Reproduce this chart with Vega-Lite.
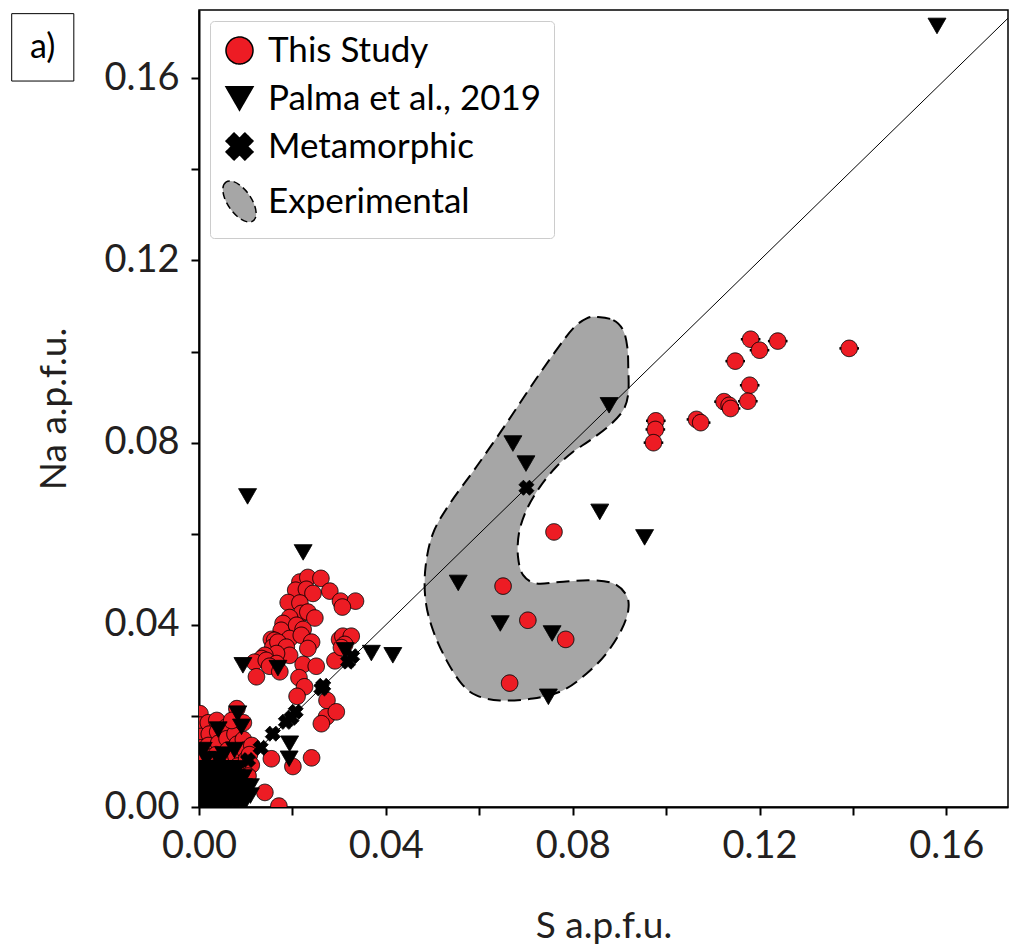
{
  "$schema": "https://vega.github.io/schema/vega-lite/v6.json",
  "autosize": {"type": "none"},
  "width": 809,
  "height": 797,
  "padding": {"left": 199, "top": 10, "right": 2, "bottom": 144},
  "config": {
    "font": "Lato",
    "view": {"stroke": "black", "strokeWidth": 1.5},
    "axis": {
      "grid": false, "domainColor": "black", "domainWidth": 2, "tickColor": "black", "tickWidth": 2, "tickSize": 8, "labelFlush": false,
      "labelFont": "Lato", "labelFontSize": 38, "labelColor": "#231f20", "labelPadding": 12,
      "titleFont": "Lato", "titleFontSize": 37, "titleFontWeight": "normal", "titleColor": "#231f20"
    },
    "legend": {
      "title": null, "orient": "top-left", "offset": 11, "padding": 12, "strokeColor": "#cccccc", "fillColor": "white", "cornerRadius": 4,
      "labelFont": "Lato", "labelFontSize": 35, "labelColor": "black", "labelOffset": 11, "symbolSize": 729, "rowPadding": 12, "labelLimit": 400,
      "symbolStrokeColor": "black", "symbolStrokeWidth": 1.5
    }
  },
  "datasets": {
    "pts": [
      {"S":0.0002,"Na":0.0205,"series":"This Study"},{"S":0.0003,"Na":0.018,"series":"This Study"},{"S":0.0005,"Na":0.0155,"series":"This Study"},{"S":0.0004,"Na":0.013,"series":"This Study"},{"S":0.0006,"Na":0.0105,"series":"This Study"},{"S":0.0005,"Na":0.008,"series":"This Study"},{"S":0.0006,"Na":0.005,"series":"This Study"},{"S":0.0004,"Na":0.002,"series":"This Study"},
      {"S":0.002,"Na":0.0185,"series":"This Study"},{"S":0.0022,"Na":0.016,"series":"This Study"},{"S":0.002,"Na":0.0135,"series":"This Study"},{"S":0.0025,"Na":0.011,"series":"This Study"},{"S":0.002,"Na":0.0085,"series":"This Study"},{"S":0.0023,"Na":0.006,"series":"This Study"},{"S":0.002,"Na":0.003,"series":"This Study"},
      {"S":0.0038,"Na":0.019,"series":"This Study"},{"S":0.004,"Na":0.0165,"series":"This Study"},{"S":0.0042,"Na":0.014,"series":"This Study"},{"S":0.0037,"Na":0.0115,"series":"This Study"},{"S":0.0041,"Na":0.009,"series":"This Study"},{"S":0.0039,"Na":0.0065,"series":"This Study"},{"S":0.004,"Na":0.004,"series":"This Study"},
      {"S":0.0058,"Na":0.0175,"series":"This Study"},{"S":0.006,"Na":0.015,"series":"This Study"},{"S":0.0062,"Na":0.0125,"series":"This Study"},{"S":0.0057,"Na":0.01,"series":"This Study"},{"S":0.006,"Na":0.0075,"series":"This Study"},{"S":0.0061,"Na":0.005,"series":"This Study"},{"S":0.0059,"Na":0.0025,"series":"This Study"},
      {"S":0.0077,"Na":0.016,"series":"This Study"},{"S":0.0082,"Na":0.0138,"series":"This Study"},{"S":0.0079,"Na":0.0112,"series":"This Study"},{"S":0.0083,"Na":0.009,"series":"This Study"},{"S":0.0078,"Na":0.0065,"series":"This Study"},{"S":0.0081,"Na":0.004,"series":"This Study"},
      {"S":0.0095,"Na":0.0148,"series":"This Study"},{"S":0.0098,"Na":0.0125,"series":"This Study"},{"S":0.0102,"Na":0.0105,"series":"This Study"},{"S":0.0096,"Na":0.008,"series":"This Study"},{"S":0.0099,"Na":0.0055,"series":"This Study"},
      {"S":0.0113,"Na":0.0135,"series":"This Study"},{"S":0.0108,"Na":0.0115,"series":"This Study"},{"S":0.0112,"Na":0.0092,"series":"This Study"},{"S":0.0105,"Na":0.0068,"series":"This Study"},
      {"S":0.0081,"Na":0.0216,"series":"This Study"},{"S":0.0095,"Na":0.0185,"series":"This Study"},{"S":0.007,"Na":0.019,"series":"This Study"},
      {"S":0.0216,"Na":0.0494,"series":"This Study"},{"S":0.0233,"Na":0.0504,"series":"This Study"},{"S":0.0261,"Na":0.0502,"series":"This Study"},{"S":0.028,"Na":0.0474,"series":"This Study"},{"S":0.0207,"Na":0.0476,"series":"This Study"},{"S":0.023,"Na":0.0478,"series":"This Study"},{"S":0.0244,"Na":0.0469,"series":"This Study"},{"S":0.0303,"Na":0.0452,"series":"This Study"},{"S":0.0335,"Na":0.0452,"series":"This Study"},{"S":0.0307,"Na":0.0439,"series":"This Study"},
      {"S":0.0191,"Na":0.0449,"series":"This Study"},{"S":0.0216,"Na":0.0448,"series":"This Study"},{"S":0.0219,"Na":0.0425,"series":"This Study"},{"S":0.0233,"Na":0.0428,"series":"This Study"},{"S":0.0248,"Na":0.0415,"series":"This Study"},{"S":0.0194,"Na":0.0416,"series":"This Study"},{"S":0.018,"Na":0.0403,"series":"This Study"},{"S":0.0176,"Na":0.0388,"series":"This Study"},{"S":0.0209,"Na":0.0399,"series":"This Study"},{"S":0.0223,"Na":0.039,"series":"This Study"},
      {"S":0.0194,"Na":0.037,"series":"This Study"},{"S":0.0219,"Na":0.0377,"series":"This Study"},{"S":0.0155,"Na":0.0368,"series":"This Study"},{"S":0.0162,"Na":0.0366,"series":"This Study"},{"S":0.0158,"Na":0.0351,"series":"This Study"},{"S":0.0169,"Na":0.0362,"series":"This Study"},{"S":0.0241,"Na":0.0362,"series":"This Study"},{"S":0.0233,"Na":0.0348,"series":"This Study"},{"S":0.0187,"Na":0.0351,"series":"This Study"},{"S":0.0194,"Na":0.0333,"series":"This Study"},
      {"S":0.0166,"Na":0.0337,"series":"This Study"},{"S":0.0141,"Na":0.0333,"series":"This Study"},{"S":0.0134,"Na":0.0326,"series":"This Study"},{"S":0.0119,"Na":0.0318,"series":"This Study"},{"S":0.0144,"Na":0.0322,"series":"This Study"},{"S":0.0166,"Na":0.0315,"series":"This Study"},{"S":0.0151,"Na":0.0309,"series":"This Study"},{"S":0.0173,"Na":0.0297,"series":"This Study"},{"S":0.0123,"Na":0.0286,"series":"This Study"},{"S":0.0223,"Na":0.0313,"series":"This Study"},
      {"S":0.0251,"Na":0.0309,"series":"This Study"},{"S":0.0291,"Na":0.0321,"series":"This Study"},{"S":0.0301,"Na":0.0368,"series":"This Study"},{"S":0.0308,"Na":0.0375,"series":"This Study"},{"S":0.0326,"Na":0.0375,"series":"This Study"},{"S":0.0312,"Na":0.0357,"series":"This Study"},{"S":0.0305,"Na":0.035,"series":"This Study"},{"S":0.0214,"Na":0.0284,"series":"This Study"},{"S":0.0226,"Na":0.0264,"series":"This Study"},{"S":0.021,"Na":0.0243,"series":"This Study"},
      {"S":0.0274,"Na":0.0234,"series":"This Study"},{"S":0.0273,"Na":0.0198,"series":"This Study"},{"S":0.0262,"Na":0.0183,"series":"This Study"},{"S":0.0294,"Na":0.0209,"series":"This Study"},{"S":0.0201,"Na":0.0089,"series":"This Study"},{"S":0.0241,"Na":0.0108,"series":"This Study"},{"S":0.0155,"Na":0.0106,"series":"This Study"},{"S":0.0141,"Na":0.0032,"series":"This Study"},{"S":0.0171,"Na":0.0002,"series":"This Study"},{"S":0.0073,"Na":0.0004,"series":"This Study"},
      {"S":0.0005,"Na":0.0005,"series":"Palma et al., 2019"},{"S":0.002,"Na":0.0005,"series":"Palma et al., 2019"},{"S":0.0035,"Na":0.0005,"series":"Palma et al., 2019"},{"S":0.005,"Na":0.0005,"series":"Palma et al., 2019"},{"S":0.0065,"Na":0.0005,"series":"Palma et al., 2019"},{"S":0.008,"Na":0.0005,"series":"Palma et al., 2019"},{"S":0.0095,"Na":0.0005,"series":"Palma et al., 2019"},
      {"S":0.0005,"Na":0.0025,"series":"Palma et al., 2019"},{"S":0.002,"Na":0.0025,"series":"Palma et al., 2019"},{"S":0.0035,"Na":0.0025,"series":"Palma et al., 2019"},{"S":0.005,"Na":0.0025,"series":"Palma et al., 2019"},{"S":0.0065,"Na":0.0025,"series":"Palma et al., 2019"},{"S":0.008,"Na":0.0025,"series":"Palma et al., 2019"},{"S":0.0095,"Na":0.0025,"series":"Palma et al., 2019"},{"S":0.011,"Na":0.0025,"series":"Palma et al., 2019"},
      {"S":0.0005,"Na":0.0045,"series":"Palma et al., 2019"},{"S":0.002,"Na":0.0045,"series":"Palma et al., 2019"},{"S":0.0035,"Na":0.0045,"series":"Palma et al., 2019"},{"S":0.005,"Na":0.0045,"series":"Palma et al., 2019"},{"S":0.0065,"Na":0.0045,"series":"Palma et al., 2019"},{"S":0.008,"Na":0.0045,"series":"Palma et al., 2019"},{"S":0.0095,"Na":0.0045,"series":"Palma et al., 2019"},{"S":0.011,"Na":0.0045,"series":"Palma et al., 2019"},
      {"S":0.0005,"Na":0.0065,"series":"Palma et al., 2019"},{"S":0.002,"Na":0.0065,"series":"Palma et al., 2019"},{"S":0.0035,"Na":0.0065,"series":"Palma et al., 2019"},{"S":0.005,"Na":0.0065,"series":"Palma et al., 2019"},{"S":0.0065,"Na":0.0065,"series":"Palma et al., 2019"},{"S":0.008,"Na":0.0065,"series":"Palma et al., 2019"},{"S":0.0095,"Na":0.0065,"series":"Palma et al., 2019"},
      {"S":0.0005,"Na":0.0085,"series":"Palma et al., 2019"},{"S":0.002,"Na":0.0085,"series":"Palma et al., 2019"},{"S":0.0035,"Na":0.0085,"series":"Palma et al., 2019"},{"S":0.005,"Na":0.0085,"series":"Palma et al., 2019"},{"S":0.0065,"Na":0.0085,"series":"Palma et al., 2019"},{"S":0.008,"Na":0.0085,"series":"Palma et al., 2019"},
      {"S":0.0083,"Na":0.0205,"series":"Palma et al., 2019"},{"S":0.0091,"Na":0.0176,"series":"Palma et al., 2019"},{"S":0.0041,"Na":0.017,"series":"Palma et al., 2019"},{"S":0.0076,"Na":0.0125,"series":"Palma et al., 2019"},{"S":0.0041,"Na":0.0105,"series":"Palma et al., 2019"},{"S":0.0016,"Na":0.0105,"series":"Palma et al., 2019"},{"S":0.0053,"Na":0.0115,"series":"Palma et al., 2019"},{"S":0.0009,"Na":0.0125,"series":"Palma et al., 2019"},
      {"S":0.0194,"Na":0.0139,"series":"Palma et al., 2019"},{"S":0.0193,"Na":0.0106,"series":"Palma et al., 2019"},{"S":0.0094,"Na":0.0311,"series":"Palma et al., 2019"},{"S":0.0169,"Na":0.0305,"series":"Palma et al., 2019"},{"S":0.0223,"Na":0.0559,"series":"Palma et al., 2019"},{"S":0.0104,"Na":0.0682,"series":"Palma et al., 2019"},{"S":0.0313,"Na":0.0344,"series":"Palma et al., 2019"},{"S":0.0369,"Na":0.0338,"series":"Palma et al., 2019"},{"S":0.0415,"Na":0.0333,"series":"Palma et al., 2019"},
      {"S":0.0672,"Na":0.0798,"series":"Palma et al., 2019"},{"S":0.07,"Na":0.0754,"series":"Palma et al., 2019"},{"S":0.0878,"Na":0.0882,"series":"Palma et al., 2019"},{"S":0.0858,"Na":0.0648,"series":"Palma et al., 2019"},{"S":0.0954,"Na":0.0592,"series":"Palma et al., 2019"},{"S":0.0555,"Na":0.0492,"series":"Palma et al., 2019"},{"S":0.0645,"Na":0.0403,"series":"Palma et al., 2019"},{"S":0.0756,"Na":0.0381,"series":"Palma et al., 2019"},{"S":0.0748,"Na":0.0242,"series":"Palma et al., 2019"},{"S":0.158,"Na":0.1715,"series":"Palma et al., 2019"},
      {"S":0.001,"Na":0.001,"series":"Metamorphic"},{"S":0.002,"Na":0.0021,"series":"Metamorphic"},{"S":0.004,"Na":0.0042,"series":"Metamorphic"},{"S":0.006,"Na":0.0058,"series":"Metamorphic"},{"S":0.008,"Na":0.0082,"series":"Metamorphic"},{"S":0.0105,"Na":0.0103,"series":"Metamorphic"},{"S":0.0132,"Na":0.013,"series":"Metamorphic"},{"S":0.0158,"Na":0.0161,"series":"Metamorphic"},{"S":0.0186,"Na":0.0187,"series":"Metamorphic"},{"S":0.0198,"Na":0.0196,"series":"Metamorphic"},
      {"S":0.0207,"Na":0.0209,"series":"Metamorphic"},{"S":0.0262,"Na":0.026,"series":"Metamorphic"},{"S":0.0266,"Na":0.0266,"series":"Metamorphic"},{"S":0.0319,"Na":0.0319,"series":"Metamorphic"},{"S":0.0328,"Na":0.0331,"series":"Metamorphic"},{"S":0.0701,"Na":0.0701,"series":"Metamorphic"},
      {"S":0.076,"Na":0.0604,"series":"This Study"},{"S":0.0651,"Na":0.0485,"series":"This Study"},{"S":0.0704,"Na":0.041,"series":"This Study"},{"S":0.0785,"Na":0.0368,"series":"This Study"},{"S":0.0665,"Na":0.0272,"series":"This Study"},
      {"S":0.1181,"Na":0.1027,"series":"This Study"},{"S":0.1239,"Na":0.1023,"series":"This Study"},{"S":0.12,"Na":0.1003,"series":"This Study"},{"S":0.1392,"Na":0.1007,"series":"This Study"},{"S":0.1148,"Na":0.0979,"series":"This Study"},{"S":0.1179,"Na":0.0926,"series":"This Study"},{"S":0.1175,"Na":0.0891,"series":"This Study"},{"S":0.1124,"Na":0.089,"series":"This Study"},{"S":0.1135,"Na":0.0882,"series":"This Study"},{"S":0.1138,"Na":0.0875,"series":"This Study"},
      {"S":0.1065,"Na":0.0851,"series":"This Study"},{"S":0.1074,"Na":0.0844,"series":"This Study"},{"S":0.0978,"Na":0.0848,"series":"This Study"},{"S":0.0977,"Na":0.0829,"series":"This Study"},{"S":0.0973,"Na":0.08,"series":"This Study"}
    ],
    "err": [
      {"lo":0.116,"hi":0.1202,"Na":0.1027},{"lo":0.1218,"hi":0.126,"Na":0.1023},{"lo":0.1179,"hi":0.1221,"Na":0.1003},{"lo":0.1371,"hi":0.1413,"Na":0.1007},{"lo":0.1127,"hi":0.1169,"Na":0.0979},
      {"lo":0.1158,"hi":0.12,"Na":0.0926},{"lo":0.1154,"hi":0.1196,"Na":0.0891},{"lo":0.1103,"hi":0.1145,"Na":0.089},{"lo":0.1114,"hi":0.1156,"Na":0.0882},{"lo":0.1117,"hi":0.1159,"Na":0.0875},
      {"lo":0.1044,"hi":0.1086,"Na":0.0851},{"lo":0.1053,"hi":0.1095,"Na":0.0844},{"lo":0.0957,"hi":0.0999,"Na":0.0848},{"lo":0.0956,"hi":0.0998,"Na":0.0829},{"lo":0.0952,"hi":0.0994,"Na":0.08}
    ],
    "poly": [
      {"i":1,"S":0.0854,"Na":0.1076},{"i":2,"S":0.0887,"Na":0.1069},{"i":3,"S":0.0908,"Na":0.1047},{"i":4,"S":0.0917,"Na":0.101},{"i":5,"S":0.0919,"Na":0.0967},{"i":6,"S":0.0919,"Na":0.0908},{"i":7,"S":0.0908,"Na":0.0871},{"i":8,"S":0.0879,"Na":0.0838},{"i":9,"S":0.0837,"Na":0.0805},{"i":10,"S":0.0801,"Na":0.078},
      {"i":11,"S":0.0765,"Na":0.0747},{"i":12,"S":0.073,"Na":0.0703},{"i":13,"S":0.0701,"Na":0.0652},{"i":14,"S":0.0685,"Na":0.0601},{"i":15,"S":0.0683,"Na":0.0549},{"i":16,"S":0.0694,"Na":0.0509},{"i":17,"S":0.0722,"Na":0.0491},{"i":18,"S":0.0772,"Na":0.0494},{"i":19,"S":0.0837,"Na":0.0498},{"i":20,"S":0.0887,"Na":0.0491},
      {"i":21,"S":0.0915,"Na":0.0465},{"i":22,"S":0.0919,"Na":0.0432},{"i":23,"S":0.0904,"Na":0.0388},{"i":24,"S":0.0872,"Na":0.0337},{"i":25,"S":0.083,"Na":0.0293},{"i":26,"S":0.0779,"Na":0.0256},{"i":27,"S":0.0715,"Na":0.0238},{"i":28,"S":0.0644,"Na":0.0234},{"i":29,"S":0.0594,"Na":0.0245},{"i":30,"S":0.0562,"Na":0.0271},
      {"i":31,"S":0.053,"Na":0.0322},{"i":32,"S":0.0501,"Na":0.0388},{"i":33,"S":0.0485,"Na":0.0454},{"i":34,"S":0.0485,"Na":0.0527},{"i":35,"S":0.0501,"Na":0.0601},{"i":36,"S":0.0537,"Na":0.0666},{"i":37,"S":0.0594,"Na":0.0747},{"i":38,"S":0.0658,"Na":0.0842},{"i":39,"S":0.0715,"Na":0.093},{"i":40,"S":0.0765,"Na":0.1003},
      {"i":41,"S":0.0801,"Na":0.1051},{"i":42,"S":0.083,"Na":0.1073}
    ],
    "oneone": [{"S":0,"Na":0},{"S":0.1732,"Na":0.1732}],
    "panel": [{"label":"a)","x0":-0.0401,"x1":-0.0268,"y0":0.1594,"y1":0.1742,"xc":-0.03347,"yc":0.1667}]
  },
  "layer": [
    {
      "data": {"name": "poly"},
      "mark": {"type": "line", "interpolate": "cardinal-closed", "fill": "#a6a6a6", "stroke": "black", "strokeWidth": 2, "strokeDash": [13, 7]},
      "encoding": {
        "x": {"field": "S", "type": "quantitative", "scale": {"domain": [0, 0.1732], "nice": false, "zero": false},
          "axis": {"title": "S a.p.f.u.", "values": [0,0.02,0.04,0.06,0.08,0.1,0.12,0.14,0.16], "format": ".2f", "labelExpr": "round(datum.value*100) % 4 == 0 ? datum.label : ''", "titlePadding": 43}},
        "y": {"field": "Na", "type": "quantitative", "scale": {"domain": [0, 0.175], "nice": false, "zero": false},
          "axis": {"title": "Na a.p.f.u.", "values": [0,0.02,0.04,0.06,0.08,0.1,0.12,0.14,0.16], "format": ".2f", "labelExpr": "round(datum.value*100) % 4 == 0 ? datum.label : ''", "titlePadding": 30}},
        "order": {"field": "i", "type": "quantitative"}
      }
    },
    {
      "data": {"name": "oneone"},
      "mark": {"type": "line", "color": "black", "strokeWidth": 1, "clip": true},
      "encoding": {"x": {"field": "S", "type": "quantitative"}, "y": {"field": "Na", "type": "quantitative"}}
    },
    {
      "data": {"name": "err"},
      "mark": {"type": "rule", "color": "black", "strokeWidth": 2.5},
      "encoding": {"x": {"field": "lo", "type": "quantitative"}, "x2": {"field": "hi"}, "y": {"field": "Na", "type": "quantitative"}}
    },
    {
      "data": {"name": "pts"},
      "mark": {"type": "point", "filled": true, "opacity": 1, "strokeWidth": 1, "clip": true},
      "encoding": {
        "x": {"field": "S", "type": "quantitative"},
        "y": {"field": "Na", "type": "quantitative"},
        "shape": {"field": "series", "type": "nominal",
          "scale": {"domain": ["This Study", "Palma et al., 2019", "Metamorphic", "Experimental"],
            "range": ["circle", "triangle-down", "M-0.4,-1L0,-0.6L0.4,-1L1,-0.4L0.6,0L1,0.4L0.4,1L0,0.6L-0.4,1L-1,0.4L-0.6,0L-1,-0.4Z", "M-1.004,-1.433A1.75,0.85,55,1,0,1.004,1.433A1.75,0.85,55,1,0,-1.004,-1.433Z"]},
          "legend": {"encode": {"symbols": {"update": {"strokeWidth": {"value": 1.5}}}}}},
        "fill": {"field": "series", "type": "nominal",
          "scale": {"domain": ["This Study", "Palma et al., 2019", "Metamorphic", "Experimental"], "range": ["#ed1c24", "#000000", "#000000", "#a6a6a6"]},
          "legend": {"encode": {"symbols": {"update": {"strokeWidth": {"value": 1.5}}}}}},
        "stroke": {"field": "series", "type": "nominal",
          "scale": {"domain": ["This Study", "Palma et al., 2019", "Metamorphic", "Experimental"], "range": ["#000000", "#000000", "#000000", "#000000"]},
          "legend": {"encode": {"symbols": {"update": {"strokeWidth": {"value": 1.5}}}}}},
        "strokeDash": {"field": "series", "type": "nominal",
          "scale": {"domain": ["This Study", "Palma et al., 2019", "Metamorphic", "Experimental"], "range": [[1, 0], [1, 0], [1, 0], [7, 4]]},
          "legend": {"encode": {"symbols": {"update": {"strokeWidth": {"value": 1.5}}}}}},
        "size": {"field": "series", "type": "nominal",
          "scale": {"domain": ["Palma et al., 2019", "This Study", "Metamorphic", "Experimental"], "range": [320, 180, 300, 0]}, "legend": null}
      }
    },
    {
      "data": {"name": "panel"},
      "mark": {"type": "rect", "fill": "white", "stroke": "black", "strokeWidth": 1},
      "encoding": {"x": {"field": "x0", "type": "quantitative"}, "x2": {"field": "x1"}, "y": {"field": "y0", "type": "quantitative"}, "y2": {"field": "y1"}}
    },
    {
      "data": {"name": "panel"},
      "mark": {"type": "text", "font": "Lato", "fontSize": 34, "color": "black", "align": "center", "baseline": "middle"},
      "encoding": {"x": {"field": "xc", "type": "quantitative"}, "y": {"field": "yc", "type": "quantitative"}, "text": {"field": "label"}}
    }
  ]
}
